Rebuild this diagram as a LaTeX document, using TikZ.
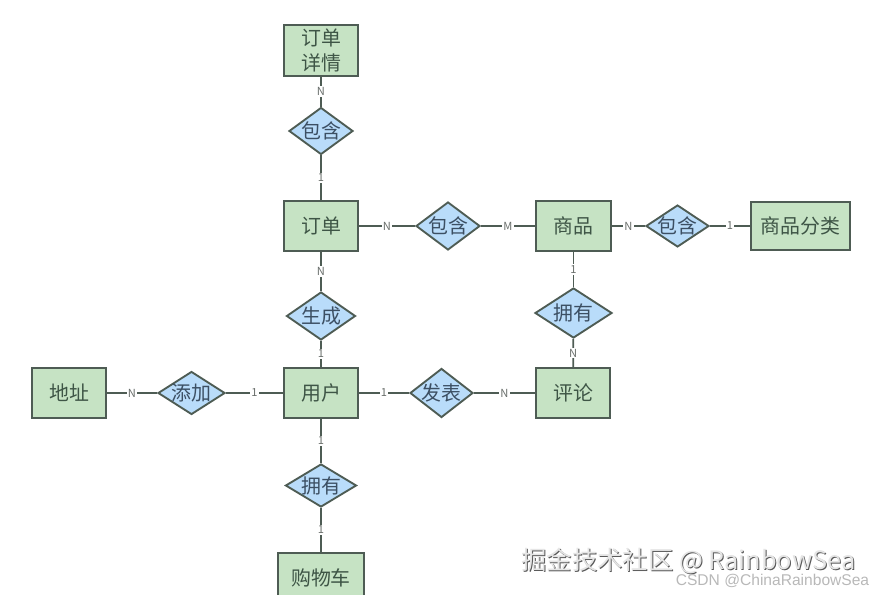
\documentclass[tikz,border=0pt]{standalone}
\usepackage{fontspec}
\setmainfont{Noto Sans CJK SC}
\newfontfamily\markfont{Liberation Sans}
\usepackage{xcolor}
\usetikzlibrary{shapes.geometric}
\definecolor{line}{HTML}{4E5C54}
\definecolor{entity}{HTML}{C6E3C4}
\definecolor{relation}{HTML}{B9DCFA}
\definecolor{entitytext}{HTML}{3E5546}
\definecolor{relationtext}{HTML}{3C4F63}
\definecolor{cardtext}{HTML}{6A6F6C}
\newcommand{\reltext}[1]{\makebox[0pt]{\smash{\raisebox{-0.38em}{#1}}}}
\newcommand{\embossed}[1]{\rlap{\kern0.8pt\raisebox{-0.8pt}{\textcolor{black!65}{#1}}}\textcolor{black!10}{#1}}
\tikzset{
    ent/.style={draw=line, line width=1.6pt, fill=entity, text=entitytext, inner sep=0pt, align=center,
        font=\fontsize{17}{21.5}\selectfont},
    rel/.style={diamond, draw=line, line width=1.6pt, fill=relation, text=relationtext, inner sep=0pt,
        font=\fontsize{17}{21}\selectfont},
    conn/.style={draw=line, line width=1.5pt},
    card/.style={fill=white, text=cardtext, inner sep=1pt, font=\fontsize{9.5}{10}\selectfont},
}

\begin{document}
\begin{tikzpicture}[x=0.03cm, y=-0.03cm]
    \useasboundingbox (0,0) rectangle (874,595);
    %
    \node[ent, minimum width=74*0.03cm, minimum height=51*0.03cm] (detail) at (321,50.5) {订单\\详情};
    \node[ent, minimum width=74*0.03cm, minimum height=50*0.03cm] (order) at (321,226) {订单};
    \node[ent, minimum width=75*0.03cm, minimum height=50*0.03cm] (goods) at (573.5,226) {商品};
    \node[ent, minimum width=99*0.03cm, minimum height=48*0.03cm] (category) at (800.5,226) {商品分类};
    \node[ent, minimum width=74*0.03cm, minimum height=50*0.03cm] (user) at (321,393) {用户};
    \node[ent, minimum width=74*0.03cm, minimum height=50*0.03cm] (address) at (69,393) {地址};
    \node[ent, minimum width=74*0.03cm, minimum height=50*0.03cm] (comment) at (573,393) {评论};
    \node[ent, minimum width=86*0.03cm, minimum height=50*0.03cm] (cart) at (321,578) {购物车};
    %
    \node[rel, minimum width=64*0.03cm, minimum height=47*0.03cm] (hasdetail) at (321,131) {\reltext{包含}};
    \node[rel, minimum width=64*0.03cm, minimum height=48*0.03cm] (hasgoods) at (448,226) {\reltext{包含}};
    \node[rel, minimum width=63*0.03cm, minimum height=42*0.03cm] (hascategory) at (677.5,226) {\reltext{包含}};
    \node[rel, minimum width=69*0.03cm, minimum height=48*0.03cm] (create) at (321,316) {\reltext{生成}};
    \node[rel, minimum width=77*0.03cm, minimum height=50*0.03cm] (owncomment) at (573.5,313) {\reltext{拥有}};
    \node[rel, minimum width=67*0.03cm, minimum height=43*0.03cm] (add) at (191.5,393) {\reltext{添加}};
    \node[rel, minimum width=63*0.03cm, minimum height=49*0.03cm] (publish) at (441.5,393) {\reltext{发表}};
    \node[rel, minimum width=71*0.03cm, minimum height=43*0.03cm] (owncart) at (321,485.5) {\reltext{拥有}};
    %
    \draw[conn] (detail) -- node[card] {N} (hasdetail);
    \draw[conn] (hasdetail) -- node[card] {1} (order);
    \draw[conn] (order) -- node[card] {N} (hasgoods);
    \draw[conn] (hasgoods) -- node[card] {M} (goods);
    \draw[conn] (goods) -- node[card] {N} (hascategory);
    \draw[conn] (hascategory) -- node[card] {1} (category);
    \draw[conn] (order) -- node[card] {N} (create);
    \draw[conn] (create) -- node[card] {1} (user);
    \draw[conn] (goods) -- node[card] {1} (owncomment);
    \draw[conn] (owncomment) -- node[card] {N} (comment);
    \draw[conn] (address) -- node[card] {N} (add);
    \draw[conn] (add) -- node[card] {1} (user);
    \draw[conn] (user) -- node[card] {1} (publish);
    \draw[conn] (publish) -- node[card] {N} (comment);
    \draw[conn] (user) -- node[card] {1} (owncart);
    \draw[conn] (owncart) -- node[card] {1} (cart);
    %
    \node[inner sep=0pt, font=\fontsize{21.6}{23}\selectfont] (mark) at (688.5,561.5) {\embossed{掘金技术社区 @ RainbowSea}};
    \node[inner sep=0pt, text=black!28, font=\markfont\fontsize{13.3}{14}\selectfont] (csdn) at (772.5,581) {CSDN @ChinaRainbowSea};
\end{tikzpicture}
\end{document}
